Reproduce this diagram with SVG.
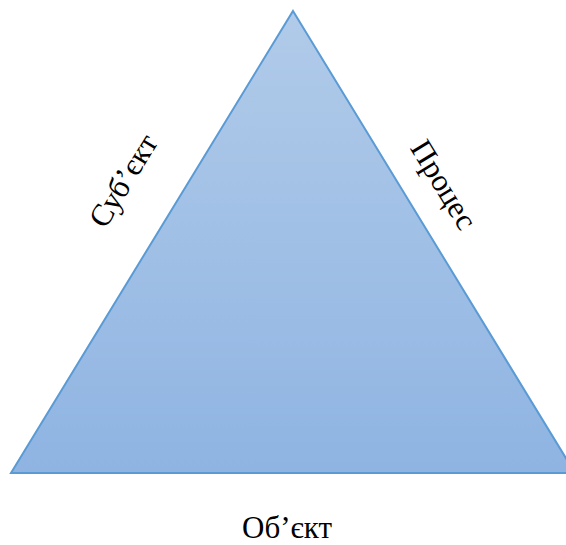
<svg xmlns="http://www.w3.org/2000/svg" width="566" height="545" viewBox="0 0 566 545">
<defs>
<linearGradient id="g" x1="0" y1="0" x2="0" y2="1">
<stop offset="0" stop-color="#b1cbe9"/>
<stop offset="1" stop-color="#8fb4e2"/>
</linearGradient>
<style>
.lbl{font-family:"Liberation Serif","Times New Roman",serif;font-size:31px;fill:#000;text-anchor:middle}
</style>
</defs>
<rect width="566" height="545" fill="#fff"/>
<g id="triangle">
<polygon points="293,11 575,473 11,473" fill="url(#g)" stroke="#5b9bd5" stroke-width="2"/>
</g>
<g id="connectors"/>
<g id="subject"><text class="lbl" transform="translate(132,186) rotate(-58.6)">Суб’єкт</text></g>
<g id="process"><text class="lbl" transform="translate(435,190) rotate(58.6)">Процес</text></g>
<g id="object"><text class="lbl" x="287" y="538">Об’єкт</text></g>
</svg>
